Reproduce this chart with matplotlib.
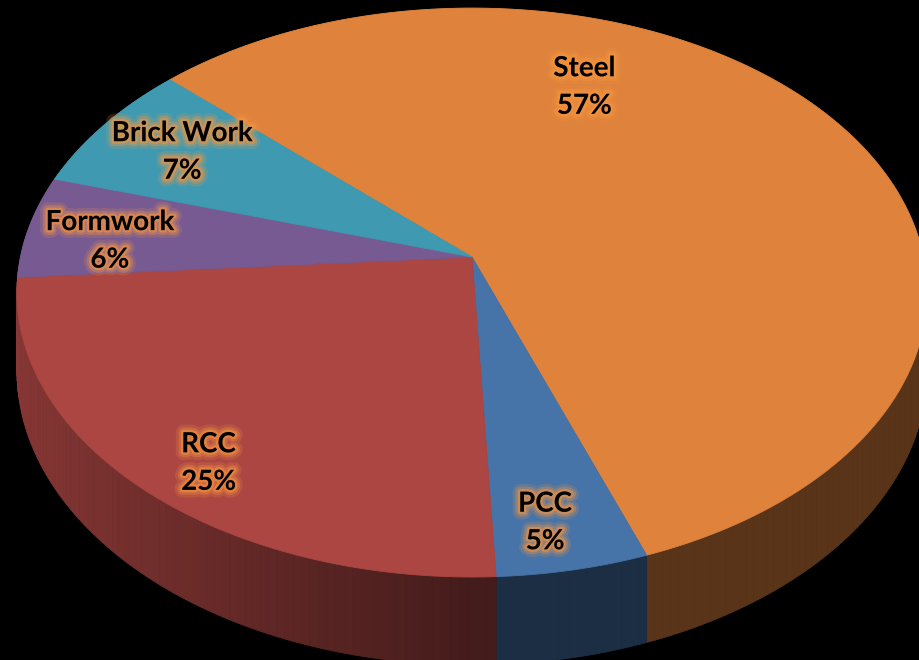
import matplotlib
matplotlib.use('Agg')
import matplotlib.pyplot as plt
import matplotlib.patheffects as pe
import numpy as np
from matplotlib.patches import Polygon

# data, in drawing order (clockwise)
labels = ['Steel', 'PCC', 'RCC', 'Formwork', 'Brick Work']
values = [57.4, 4.8, 24.6, 5.8, 7.4]
colors = ['#DE823C', '#4673A8', '#AB4643', '#775A92', '#3F9AB1']

# label placement on the disc: (radius, angle in degrees)
label_pos = [(0.71, 67.7), (0.86, 279.7), (0.86, 231.6), (0.81, 175.9), (0.78, 149.7)]

# perspective view of the disc
cx, cy = 472, 257
A, B = 451.5, 280
k = 0.125
H = 77
start = 136.6


def proj(t, r=1.0, z=0.0):
    t = np.radians(t)
    X = r * np.cos(t)
    Y = r * np.sin(t)
    w = 1.0 / (1.0 + k * Y)
    return cx + A * X * w, cy - B * Y * w + H * z * w


def shade(c, f):
    c = np.array(matplotlib.colors.to_rgb(c))
    return tuple(np.clip(c * f, 0, 1))


fig = plt.figure(figsize=(9.19, 6.6), dpi=100, facecolor='black')
ax = fig.add_axes([0, 0, 1, 1])
ax.set_facecolor('black')
ax.set_xlim(0, 919)
ax.set_ylim(660, 0)
ax.axis('off')

total = sum(values)
bounds = start - np.concatenate([[0], np.cumsum(values)]) / total * 360

# sides, far ones first
quads = []
for i in range(len(values)):
    t1, t2 = bounds[i], bounds[i + 1]
    n = max(int(abs(t1 - t2)), 2)
    ts = np.linspace(t1, t2, n + 1)
    for a, b in zip(ts[:-1], ts[1:]):
        m = (a + b) / 2
        f = 0.4 + 0.4 * max(0.0, -np.cos(np.radians(m)))
        pts = [proj(a), proj(b), proj(b, z=1), proj(a, z=1)]
        quads.append((np.sin(np.radians(m)), pts, shade(colors[i], f)))
quads.sort(key=lambda q: -q[0])
for _, pts, c in quads:
    ax.add_patch(Polygon(pts, closed=True, facecolor=c, edgecolor=c, linewidth=0.6))

# top faces
for i in range(len(values)):
    ts = np.linspace(bounds[i], bounds[i + 1], 200)
    pts = [(cx, cy)] + [proj(t) for t in ts]
    ax.add_patch(Polygon(pts, closed=True, facecolor=colors[i], edgecolor=colors[i], linewidth=0.6))

glow = '#F7963F'
effects = [pe.Stroke(linewidth=11, foreground=glow, alpha=0.18),
           pe.Stroke(linewidth=7, foreground=glow, alpha=0.3),
           pe.Stroke(linewidth=3.5, foreground=glow, alpha=0.55),
           pe.Normal()]

for i, lab in enumerate(labels):
    r, t = label_pos[i]
    x, y = proj(t, r)
    pct = round(values[i] / total * 100)
    ax.text(x, y, f'{lab}\n{pct}%', ha='center', va='center', fontsize=20,
            fontweight='bold', family=['Lato', 'DejaVu Sans'], color='black',
            linespacing=1.55, path_effects=effects)

fig.savefig('out.png', dpi=100, facecolor='black')
